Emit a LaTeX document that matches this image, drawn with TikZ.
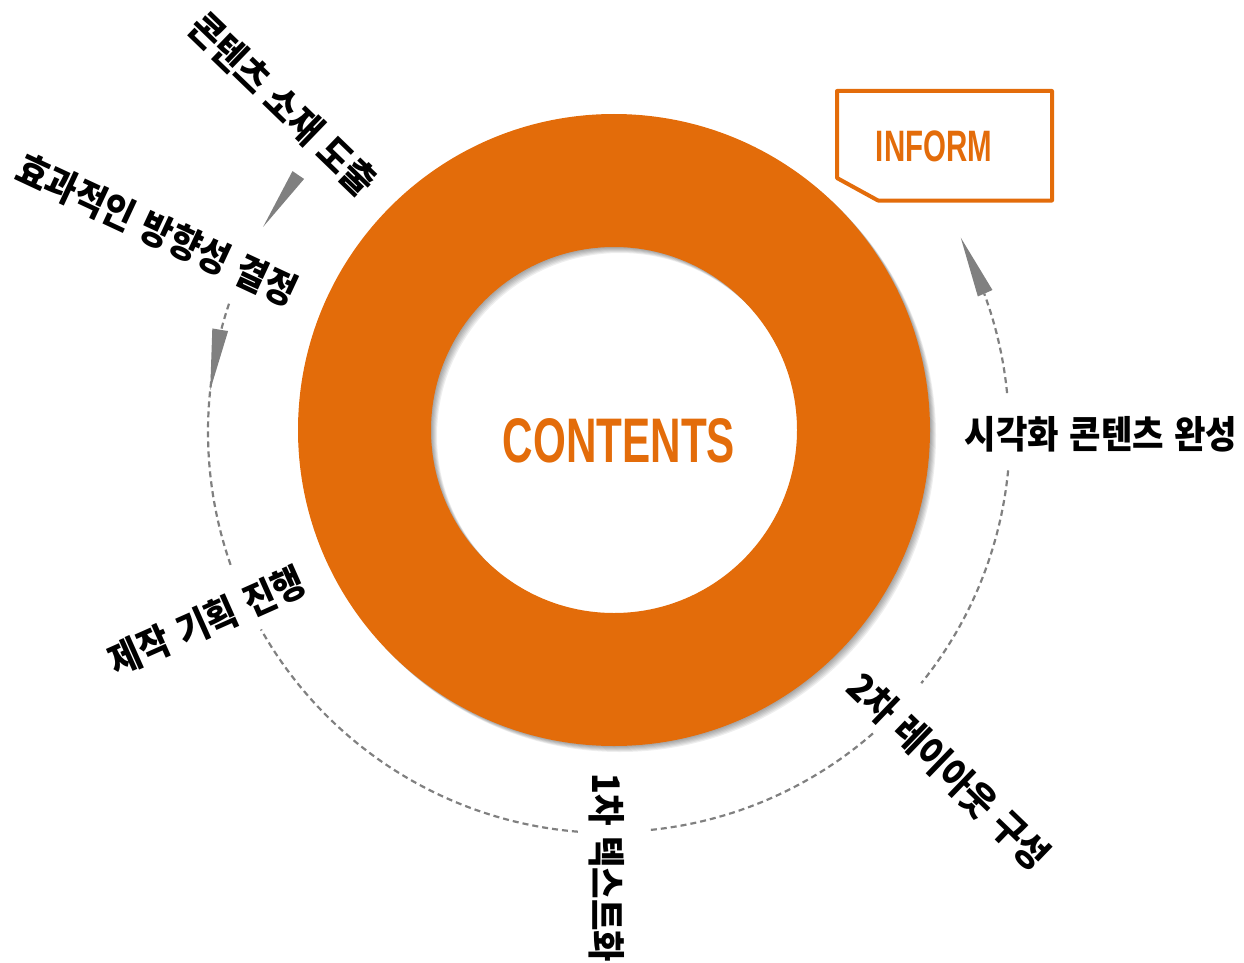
\documentclass[tikz,border=0pt]{standalone}
\usepackage{fontspec}
\newfontfamily\kr[FakeStretch=0.9,WordSpace=1.35]{Noto Sans CJK KR}
\newfontfamily\cond[FakeStretch=0.67]{Liberation Sans}
\usetikzlibrary{calc}
\definecolor{ora}{HTML}{E36C0A}
\definecolor{agray}{HTML}{808080}
\begin{document}
\begin{tikzpicture}[x=1pt,y=-1pt,
  lbl/.style={font=\kr\bfseries\fontsize{38}{38}\selectfont, inner sep=0pt},
  dashc/.style={draw=agray, line width=2.2pt, dash pattern=on 6pt off 4pt},
  arrowtri/.style={fill=agray},
  titlefont/.style={text=ora, inner sep=0pt},
]
\useasboundingbox (0,0) rectangle (1244,963);
\coordinate (C) at (614,430);
\coordinate (D) at (610,432);
% shadow of the ring
\foreach \i in {1,2,3,4,5,6} {
  \fill[black, opacity=0.065, even odd rule] ($(C)+(\i,\i)$) circle[radius=316] ($(C)+(\i,\i)$) circle[radius=183];
}
% ring
\fill[ora, even odd rule] (C) circle[radius=316] (C) circle[radius=183];
\node[titlefont, font=\cond\bfseries\fontsize{63}{63}\selectfont] (contents) at (619,441) {CONTENTS};
% INFORM tag
\draw[ora, line width=4pt, line join=round] (837,91) -- (1052,91) -- (1052,200.5) -- (878,200.5) -- (837,178) -- cycle;
\node[titlefont, font=\cond\bfseries\fontsize{44}{44}\selectfont] (inform) at (934,146.5) {INFORM};
% dashed arcs
\draw[dashc] ($(D)+(5.5:400)$) arc[start angle=5.5, end angle=38.9, radius=400];
\draw[dashc] ($(D)+(48.9:400)$) arc[start angle=48.9, end angle=84.5, radius=400];
\draw[dashc] ($(D)+(94.6:401)$) arc[start angle=94.6, end angle=150.5, radius=401];
\draw[dashc] ($(D)+(160.7:402)$) arc[start angle=160.7, end angle=199, radius=402];
\draw[dashc] ($(D)+(-5.6:399)$) arc[start angle=-5.6, end angle=-20.3, radius=399];
% arrow heads
\coordinate (a1b) at ($(D)+(219.5:404)$);
\coordinate (a1t) at ($(D)+(210.6:403)$);
\coordinate (a2b) at ($(D)+(194.7:403)$);
\coordinate (a2t) at ($(D)+(186:402)$);
\coordinate (a3b) at ($(D)+(-20.3:400)$);
\coordinate (a3t) at ($(D)+(-29:401)$);
\fill[arrowtri] ($(a1b)!7pt!90:(a1t)$) -- (a1t) -- ($(a1b)!7pt!-90:(a1t)$) -- cycle;
\fill[arrowtri] ($(a2b)!8pt!90:(a2t)$) -- (a2t) -- ($(a2b)!8pt!-90:(a2t)$) -- cycle;
\fill[arrowtri] ($(a3b)!8pt!90:(a3t)$) -- (a3t) -- ($(a3b)!8pt!-90:(a3t)$) -- cycle;
% labels
\node[lbl, rotate=-44] (t1) at (283,104) {콘텐츠 소재 도출};
\node[lbl, rotate=-25] (t2) at (157,230) {효과적인 방향성 결정};
\node[lbl, rotate=24] (t3) at (207,621) {제작 기획 진행};
\node[lbl, rotate=-90] (t4) at (607,868) {1차 텍스트화};
\node[lbl, rotate=-44] (t5) at (949,771) {2차 레이아웃 구성};
\node[lbl] (t6) at (1101,434) {시각화 콘텐츠 완성};
\end{tikzpicture}
\end{document}
